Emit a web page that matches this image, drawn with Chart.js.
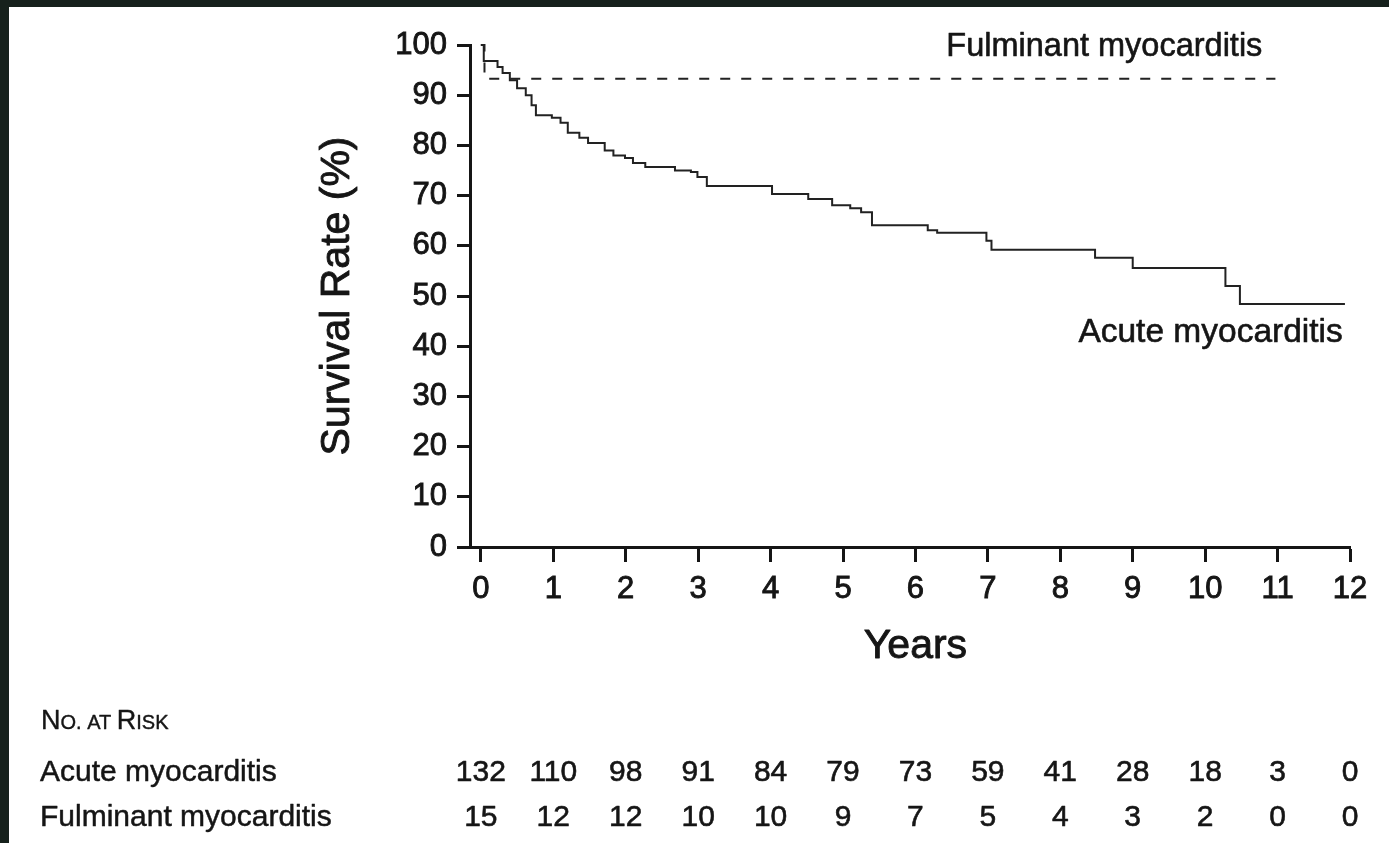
<!DOCTYPE html>
<html>
<head>
<meta charset="utf-8">
<script src="https://cdn.jsdelivr.net/npm/chart.js@4.4.0/dist/chart.umd.min.js"></script>
<style>
  html, body { margin: 0; padding: 0; width: 1389px; height: 843px; overflow: hidden; background: #16211c; }
  #paper { position: absolute; left: 9px; top: 7px; right: 0; bottom: 0; background: #fff; }
  canvas { position: absolute; left: 0; top: 0; }
</style>
</head>
<body>
<div id="paper"></div>
<canvas id="km" width="1389" height="843"></canvas>
<script>
// years on the x axis
const xTicks = [0, 1, 2, 3, 4, 5, 6, 7, 8, 9, 10, 11, 12];

// Kaplan-Meier steps (time in years, survival in %)
const acuteTimes = [0, 0.04, 0.23, 0.30, 0.40, 0.50, 0.62, 0.70, 0.76, 0.98, 1.10, 1.20, 1.36, 1.48,
  1.71, 1.83, 1.99, 2.10, 2.27, 2.68, 2.90, 2.99, 3.12, 4.02, 4.52, 4.85, 5.10, 5.25, 5.40,
  6.17, 6.30, 6.98, 7.05, 8.48, 9.00, 10.28, 10.48, 11.93];
const acuteSurvival = [100, 96.8, 95.6, 94.4, 93.0, 91.4, 90.0, 88.0, 86.0, 85.5, 84.5, 82.5, 81.5, 80.5,
  79.0, 78.0, 77.5, 76.5, 75.7, 75.0, 74.7, 73.7, 71.9, 70.3, 69.3, 68.1, 67.5, 66.7, 64.1,
  63.1, 62.6, 61.0, 59.2, 57.6, 55.6, 52.0, 48.4, 48.4];

const fulminantTimes = [0, 0.05, 10.97];
const fulminantSurvival = [100, 93.3, 93.3];

// number at risk table, one value per x tick
const riskGroups = ['Acute myocarditis', 'Fulminant myocarditis'];
const acuteAtRisk = [132, 110, 98, 91, 84, 79, 73, 59, 41, 28, 18, 3, 0];
const fulminantAtRisk = [15, 12, 12, 10, 10, 9, 7, 5, 4, 3, 2, 0, 0];

const FONT = "'Liberation Sans', Arial, Helvetica, sans-serif";
const INK = '#151515';

function toPoints(xs, ys) {
  return xs.map((t, i) => ({ x: t, y: ys[i] }));
}

// fill + thin stroke, the scanned type is a bit heavier than plain regular
function heavyText(ctx, text, x, y, w) {
  ctx.lineWidth = w;
  ctx.strokeStyle = INK;
  ctx.lineJoin = 'round';
  ctx.strokeText(text, x, y);
  ctx.fillText(text, x, y);
}

const annotate = {
  id: 'annotate',
  afterDraw(chart) {
    const { ctx, chartArea, scales: { x, y } } = chart;
    ctx.save();
    ctx.fillStyle = INK;

    // axis titles
    ctx.font = `41px ${FONT}`;
    ctx.textAlign = 'center';
    ctx.textBaseline = 'middle';
    heavyText(ctx, 'Years', x.getPixelForValue(6), 647, 0.9);
    ctx.save();
    ctx.translate(338, (chartArea.top + chartArea.bottom) / 2);
    ctx.rotate(-Math.PI / 2);
    heavyText(ctx, 'Survival Rate (%)', 0, 0, 0.9);
    ctx.restore();

    // curve labels
    ctx.textAlign = 'right';
    ctx.font = `32.5px ${FONT}`;
    heavyText(ctx, 'Fulminant myocarditis', x.getPixelForValue(10.79), y.getPixelForValue(99.6), 0.6);
    ctx.font = `33.5px ${FONT}`;
    heavyText(ctx, 'Acute myocarditis', x.getPixelForValue(11.9), y.getPixelForValue(42.6), 0.6);

    // "No. at Risk" in small caps
    ctx.textAlign = 'left';
    ctx.textBaseline = 'alphabetic';
    let px = 41;
    const base = 729;
    [['N', 27], ['O.', 20], [' AT ', 20], ['R', 27], ['ISK', 20]].forEach(([s, sz]) => {
      ctx.font = `${sz}px ${FONT}`;
      heavyText(ctx, s, px, base, 0.4);
      px += ctx.measureText(s).width;
    });

    // at-risk rows, numbers centred under the x ticks
    const rows = [acuteAtRisk, fulminantAtRisk];
    const baselines = [781, 826];
    ctx.font = `30px ${FONT}`;
    rows.forEach((vals, r) => {
      ctx.textAlign = 'left';
      heavyText(ctx, riskGroups[r], 40, baselines[r], 0.5);
      ctx.textAlign = 'center';
      vals.forEach((v, i) => heavyText(ctx, String(v), x.getPixelForValue(xTicks[i]), baselines[r], 0.6));
    });
    ctx.restore();
  }
};

new Chart(document.getElementById('km'), {
  type: 'line',
  data: {
    datasets: [
      {
        label: riskGroups[0],
        data: toPoints(acuteTimes, acuteSurvival),
        stepped: 'before',
        borderColor: '#222',
        borderWidth: 2,
        pointRadius: 0,
        fill: false,
        clip: false
      },
      {
        label: riskGroups[1],
        data: toPoints(fulminantTimes, fulminantSurvival),
        stepped: 'before',
        borderColor: '#222',
        borderWidth: 2,
        borderDash: [10, 11],
        pointRadius: 0,
        fill: false,
        clip: false
      }
    ]
  },
  options: {
    responsive: false,
    animation: false,
    devicePixelRatio: 1,
    layout: { padding: { left: 300, top: 45, right: 39, bottom: 156 } },
    plugins: { legend: { display: false }, tooltip: { enabled: false } },
    scales: {
      x: {
        type: 'linear',
        min: -0.15,
        max: 12,
        afterBuildTicks: s => { s.ticks = xTicks.map(v => ({ value: v })); },
        afterFit: s => { s.height = 140; },
        grid: { drawOnChartArea: false, drawTicks: true, tickLength: 15, tickWidth: 3, color: INK },
        border: { display: true, width: 3, color: INK },
        ticks: { font: { family: FONT, size: 31 }, color: INK, padding: 9, maxRotation: 0, autoSkip: false,
                 textStrokeColor: INK, textStrokeWidth: 0.9 }
      },
      y: {
        min: 0,
        max: 100,
        afterFit: s => { s.width = 170; },
        grid: { drawOnChartArea: false, drawTicks: true, tickLength: 13, tickWidth: 3, color: INK },
        border: { display: true, width: 3, color: INK },
        ticks: { stepSize: 10, font: { family: FONT, size: 31 }, color: INK, padding: 10,
                 textStrokeColor: INK, textStrokeWidth: 0.9 }
      }
    }
  },
  plugins: [annotate]
});
</script>
</body>
</html>
